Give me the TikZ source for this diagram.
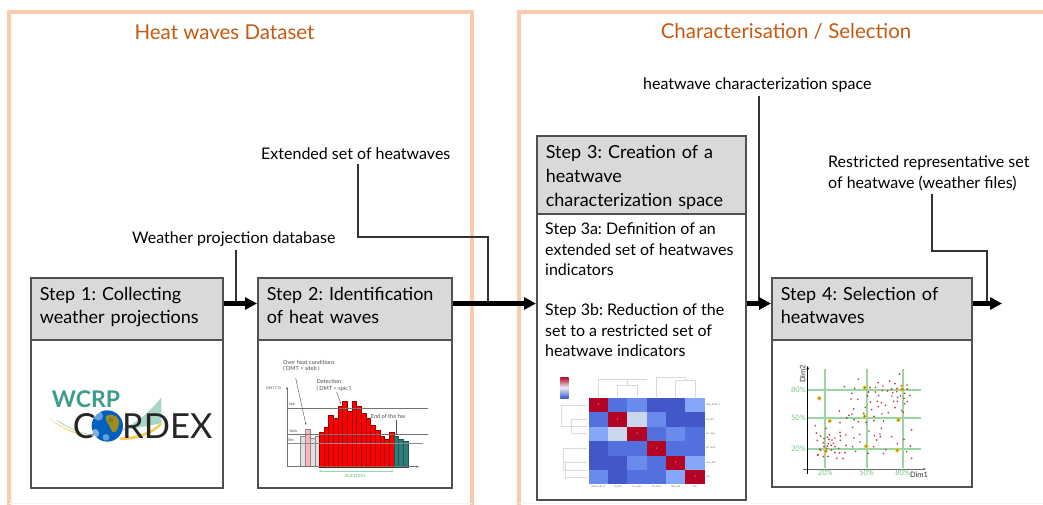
\documentclass[tikz,border=0pt]{standalone}
\usepackage{fontspec}
\setmainfont{Lato}
\frenchspacing
\usetikzlibrary{arrows.meta,calc}
\definecolor{peach}{HTML}{F8CBAD}
\definecolor{rust}{HTML}{C55A11}
\definecolor{headgray}{HTML}{D9D9D9}
\definecolor{boxline}{HTML}{505050}
\definecolor{hred}{HTML}{B40426}
\definecolor{hb}{HTML}{4358C8}
\definecolor{hc}{HTML}{5270DE}
\definecolor{hd}{HTML}{6A8BEE}
\definecolor{he}{HTML}{86A6FA}
\definecolor{hf}{HTML}{CAD6EC}
\definecolor{tealbar}{HTML}{2E7D78}
\definecolor{gline}{HTML}{9AD6A4}
\definecolor{gtext}{HTML}{7CC48A}
\definecolor{wteal}{HTML}{3E9C8C}
\definecolor{wyellow}{HTML}{F5CC5A}
\definecolor{wmint}{HTML}{A6D6C6}
\tikzset{
  panel/.style={draw=peach,line width=3.6pt},
  paneltitle/.style={text=rust,font=\fontsize{20.5}{24}\selectfont,inner sep=0pt},
  stephead/.style={draw=boxline,fill=headgray,line width=1.5pt,anchor=north west,align=left,
    font=\fontsize{18}{23}\selectfont,inner xsep=9pt,inner ysep=0pt},
  stepbody/.style={draw=boxline,fill=white,line width=1.5pt,anchor=north west,inner sep=0pt},
  lab/.style={font=\fontsize{16}{20}\selectfont,inner sep=0pt,align=left},
  bodytext/.style={font=\fontsize{16}{20.6}\selectfont,inner sep=0pt,align=left,anchor=north west},
  thinline/.style={line width=1.1pt,black!80},
  flow/.style={line width=4.2pt,black,-{Triangle[length=12pt,width=12pt]}},
  flowbig/.style={line width=4.6pt,black,-{Triangle[length=12pt,width=12pt]}},
  tiny/.style={font=\fontsize{5.6}{6.6}\selectfont,inner sep=0pt,text=black!70},
  grn/.style={font=\fontsize{7.5}{8}\selectfont,inner sep=0pt,text=gtext},
  micro/.style={font=\fontsize{2.5}{3}\selectfont,inner sep=0pt,text=black!60},
  dendro/.style={black!15,line width=.7pt},
}
\begin{document}
\begin{tikzpicture}[x=1pt,y=-1pt]
\useasboundingbox (0,0) rectangle (1043,504);
\fill[white] (0,0) rectangle (1043,504);

% panels
\draw[panel] (9,520) -- (9,12) -- (472,12) -- (472,520);
\draw[panel] (519,520) -- (519,12) -- (1060,12);
\draw[peach!25,line width=.8pt] (9,503.6) -- (472,503.6);
\draw[peach!25,line width=.8pt] (519,503.6) -- (1043,503.6);
\node[paneltitle] (t1) at (224.5,32) {Heat waves Dataset};
\node[paneltitle] (t2) at (786,31.5) {Characterisation / Selection};

% boxes
\node[stephead,minimum width=192pt,minimum height=62pt,text width=174pt] (h1) at (30,277) {Step 1: Collecting\\weather projections\rule[-6pt]{0pt}{6pt}};
\node[stepbody,minimum width=192pt,minimum height=148pt] (b1) at (30,339) {};
\node[stephead,minimum width=194pt,minimum height=62pt,text width=176pt] (h2) at (257,277) {Step 2: Identification\\of heat waves\rule[-6pt]{0pt}{6pt}};
\node[stepbody,minimum width=194pt,minimum height=148pt] (b2) at (257,339) {};
\node[stephead,minimum width=209pt,minimum height=78pt,text width=191pt,font=\fontsize{18}{24}\selectfont] (h3) at (536,135) {\rule{0pt}{18pt}Step 3: Creation of a\\heatwave\\characterization space};
\node[stepbody,minimum width=209pt,minimum height=286pt] (b3) at (536,213) {};
\node[stephead,minimum width=200pt,minimum height=62pt,text width=182pt] (h4) at (771,277) {Step 4: Selection of\\heatwaves\rule[-6pt]{0pt}{6pt}};
\node[stepbody,minimum width=200pt,minimum height=147pt] (b4) at (771,339) {};

\node[bodytext] (s3a) at (545,222.5) {Step 3a: Definition of an\\extended set of heatwaves\\indicators};
\node[bodytext] (s3b) at (545,303.5) {Step 3b: Reduction of the\\set to a restricted set of\\heatwave indicators};

% labels
\node[lab,anchor=west] (l1) at (132,239) {Weather projection database};
\node[lab,anchor=west] (l2) at (261,154) {Extended set of heatwaves};
\node[lab,anchor=west] (l3) at (643,85) {heatwave characterization space};
\node[lab,anchor=north west,font=\fontsize{16}{20.5}\selectfont] (l4) at (828,156) {Restricted representative set\\of heatwave (weather files)};

% connectors
\coordinate (main) at (0,303.5);
\coordinate (outend) at (1002,303.5);
\coordinate (c1) at (236,250);
\draw[thinline] (c1) -- (c1 |- main);
\coordinate (c2) at (358,164);
\coordinate (c2b) at (488,237);
\draw[thinline] (c2) |- (c2b) -- (c2b |- main);
\coordinate (c3) at (759,96);
\draw[thinline] (c3) -- (c3 |- main);
\coordinate (c4) at (932,194);
\coordinate (c4b) at (987,251);
\draw[thinline] (c4) |- (c4b) -- (c4b |- main);
\draw[flow] (h1.east |- main) -- (h2.west |- main);
\draw[flowbig] (h2.east |- main) -- (h3.west |- main);
\draw[flow] (h3.east |- main) -- (h4.west |- main);
\draw[flow] (h4.east |- main) -- (outend);

% CORDEX logo
\begin{scope}[shift={(20,340)},x=0.3333pt,y=-0.3333pt]
  \fill[wmint] (300,272) .. controls (350,250) and (395,210) .. (424,172) -- (424,250) .. controls (380,258) and (340,266) .. (300,272) -- cycle;
  \fill[wyellow] (300,292) .. controls (350,292) and (395,275) .. (424,246) -- (424,256) .. controls (395,285) and (345,302) .. (300,300) -- cycle;
  \fill[wyellow!70] (85,232) .. controls (120,260) and (170,280) .. (215,290) -- (215,293) .. controls (165,285) and (120,265) .. (85,232) -- cycle;
  \draw[wmint,line width=.8pt] (110,240) .. controls (150,268) and (190,282) .. (215,285);
  \node[inner sep=0pt,text=wteal,font=\fontsize{23}{23}\bfseries\selectfont] (wcrp) at (198,178) {WCRP};
  \node[inner sep=0pt,text=black!85,font=\fontsize{34.5}{36}\selectfont,anchor=west] (c) at (158,257) {C};
  \node[inner sep=0pt,text=black!85,font=\fontsize{34.5}{36}\selectfont,anchor=west] (rdex) at (306,257) {RDEX};
  \fill[blue!50!cyan!75!black] (262,258) circle (47);
  \fill[white,opacity=.4] (235,228) circle (14);
  \fill[white,opacity=.5] (225,280) circle (13);
  \fill[white,opacity=.4] (258,292) circle (10);
  \fill[brown!55!yellow!75!black] (262,226) .. controls (285,220) and (300,235) .. (297,250) .. controls (292,280) and (278,285) .. (272,265) .. controls (268,250) and (248,240) .. (262,226) -- cycle;
  \fill[olive!60!green!70!black,opacity=.7] (272,240) circle (8);
\end{scope}

% heat-wave chart
\begin{scope}[shift={(255,340)},x=0.3333pt,y=-0.3333pt]
  \foreach \a/\t in {137/290,166/295,180/288}
    \draw[black!45,fill=black!12,line width=.4pt] (\a,380) rectangle ++(14,\t-380);
  \draw[black!45,fill=red!30,line width=.4pt] (151,380) rectangle (166,268);
  \foreach \a/\t in {192/275,206/260,220/226,234/233,248/198,262/184,276/212,290/184,304/198,318/218,332/233,346/254,360/270,374/289,388/296,402/275}
    \draw[red!60!black,fill=red,line width=.3pt] (\a,380) rectangle ++(14,\t-380);
  \foreach \a/\t in {416/289,430/296,444/302}
    \draw[tealbar!70!black,fill=tealbar,line width=.3pt] (\a,380) rectangle ++(14,\t-380);
  \draw[black!55,line width=.6pt] (96,205) -- (518,205);
  \draw[black!55,line width=.6pt] (96,282) -- (518,282);
  \draw[black!45,line width=.6pt] (96,309) -- (505,309);
  \draw[black!55,line width=.8pt,-{Stealth[length=3pt]}] (96,380) -- (96,140);
  \draw[black!55,line width=.8pt,-{Stealth[length=3pt]}] (96,380) -- (492,380);
  \draw[gline,line width=.9pt,{Stealth[length=3pt]}-{Stealth[length=3pt]}] (192,393) -- (417,393);
  \node[tiny,text=gtext] (dur) at (300,406) {duration};
  \node[tiny,anchor=west,align=left] (oh) at (84,78) {Over heat conditions\\( DMT > sdeb )};
  \node[tiny,anchor=west,align=left] (det) at (184,136) {Detection\\( DMT > spic )};
  \node[tiny,anchor=west] (eh) at (347,228) {End of the hw};
  \node[tiny,anchor=west,font=\fontsize{3.6}{4}\selectfont] (dmt) at (33,144) {DMT (°C)};
  \node[tiny,anchor=west,font=\fontsize{3.6}{4}\selectfont] (sp) at (101,193) {Spic};
  \node[tiny,anchor=west,font=\fontsize{3.6}{4}\selectfont] (sd) at (103,273) {Sdeb};
  \node[tiny,anchor=west,font=\fontsize{3.6}{4}\selectfont] (sf) at (99,301) {Sfin};
  \draw[black!70,line width=.4pt,-{Stealth[length=2pt]}] (122,114) -- (153,255);
  \draw[black!70,line width=.4pt,-{Stealth[length=2pt]}] (245,156) -- (258,192);
  \draw[black!70,line width=.4pt,-{Stealth[length=2pt]}] (424,240) -- (424,284);
\end{scope}

% heat map
\begin{scope}[shift={(535,365)},x=0.3333pt,y=-0.3333pt]
  \shade[top color=hred,bottom color=hb,middle color=white!85!hd] (76,36) rectangle (101,99);
  \foreach \r/\row in {0/{hred,hc,hd,hb,hb,he},1/{hc,hred,hf,hd,hb,hb},2/{he,hf,hred,hc,hd,hc},3/{hb,hc,hc,hred,hc,hc},4/{hb,hb,hd,hc,hred,he},5/{hd,hb,hc,hc,he,hred}}{
    \foreach \cc [count=\i from 0] in \row
      \fill[\cc] ({161+\i*58},{99+\r*43.2}) rectangle ++(58,43.2);
  }
  \foreach \r/\n in {0/data\_hcdh\_1,1/rel\_def,2/tm\_max,3/int\_mod,4/max\_def,5/dur}
    \node[micro,anchor=west] (ry\r) at (513,{120+\r*43}) {\n};
  \foreach \r/\n in {0/data\_hcdh\_1,1/rel\_def,2/tm\_max,3/int\_mod,4/max\_def,5/dur}
    \node[micro] (rx\r) at ({190+\r*58},365) {\n};
  \foreach \r in {0,...,5}
    \node[micro,text=white] (d\r) at ({190+\r*58},{120+\r*43.2}) {1};
  \begin{scope}[dendro]
    \draw (190,95) -- (190,42) -- (335,42);
    \draw (248,95) -- (248,62) -- (306,62) -- (306,95);
    \draw (277,62) -- (277,42);
    \draw (365,95) -- (365,38) -- (450,38) -- (450,45);
    \draw (422,95) -- (422,47) -- (480,47) -- (480,95);
    \draw (80,120) -- (80,185) -- (155,185);
    \draw (80,120) -- (155,120);
    \draw (110,205) -- (110,162) -- (155,162);
    \draw (110,205) -- (155,205);
    \draw (84,250) -- (155,250);
    \draw (84,250) -- (84,315) -- (155,315);
    \draw (90,293) -- (155,293);
    \draw (90,293) -- (90,336) -- (155,336);
  \end{scope}
\end{scope}

% scatter
\begin{scope}[shift={(770,340)},x=0.3333pt,y=-0.3333pt]
  \foreach \a in {166,290,398} \draw[gline,line width=1.8pt] (\a,88) -- (\a,385);
  \foreach \b in {149,234,326} \draw[gline,line width=1.8pt] (113,\b) -- (452,\b);
  \draw[black!60,line width=.8pt,-{Stealth[length=3pt]}] (98,387) -- (468,387);
  \draw[black,line width=.8pt,-{Stealth[length=3.5pt]}] (113,402) -- (113,78);
  \foreach \p in {
   (389,102),(265,118),(359,123),(324,128),(375,131),(223,140),(254,145),(300,143),(317,142),(339,138),(394,137),(411,135),(352,153),(365,147),(381,146),(412,147),(337,152),(245,160),(296,156),(316,156),(368,158),(380,155),(404,160),(420,166),(243,177),(263,178),(293,168),(326,167),(366,168),(383,172),(392,168),(402,175),(301,186),(322,184),(334,188),(371,184),(382,184),(404,191),(412,185),(286,202),(325,200),(347,196),(375,203),(208,213),(251,207),(305,209),(336,222),(355,218),(395,212),(400,217),(230,234),(237,226),(246,222),(281,220),(312,229),(340,243),(210,248),(252,239),(265,245),(288,247),(312,242),(136,257),(248,262),(334,265),(425,270),(139,279),(152,288),(168,265),(172,292),(179,285),(210,277),(211,288),(228,285),(297,273),(313,287),(330,282),(331,290),(365,290),(142,301),(162,296),(177,298),(186,300),(195,294),(211,301),(252,294),(269,283),(270,306),(320,300),(402,298),(160,308),(175,311),(183,316),(190,310),(206,325),(228,316),(248,320),(311,320),(382,311),(421,318),(150,328),(152,330),(170,325),(195,320),(162,320),(172,318),(257,334),(347,329),(144,344),(160,350),(174,349),(195,338),(209,339),(225,338),(294,340),(340,340),(410,335),(200,355),(219,356),(425,355),(143,346),(184,330)}
    \fill[red!65!black!75] \p circle (2.8);
  \foreach \p in {(284,143),(397,148),(148,175),(179,243),(284,229),(385,240),(288,319),(167,333),(382,331)}{
    \fill[yellow!60!orange,opacity=.7] \p circle (7);
    \fill[brown!60!olive] \p circle (4);
  }
  \foreach \a/\t in {166/20\%,290/50\%,398/80\%}
    \node[grn] (x\a) at (\a,399) {\t};
  \foreach \b/\t in {149/80\%,234/50\%,326/20\%}
    \node[grn,anchor=east] (y\b) at (108,\b) {\t};
  \node[inner sep=0pt,font=\fontsize{7.5}{8}\selectfont,text=black!80] (dim1) at (447,404) {Dim1};
  \node[inner sep=0pt,font=\fontsize{7.5}{8}\selectfont,text=black!80,rotate=90] (dim2) at (98,102) {Dim2};
\end{scope}
\end{tikzpicture}
\end{document}
